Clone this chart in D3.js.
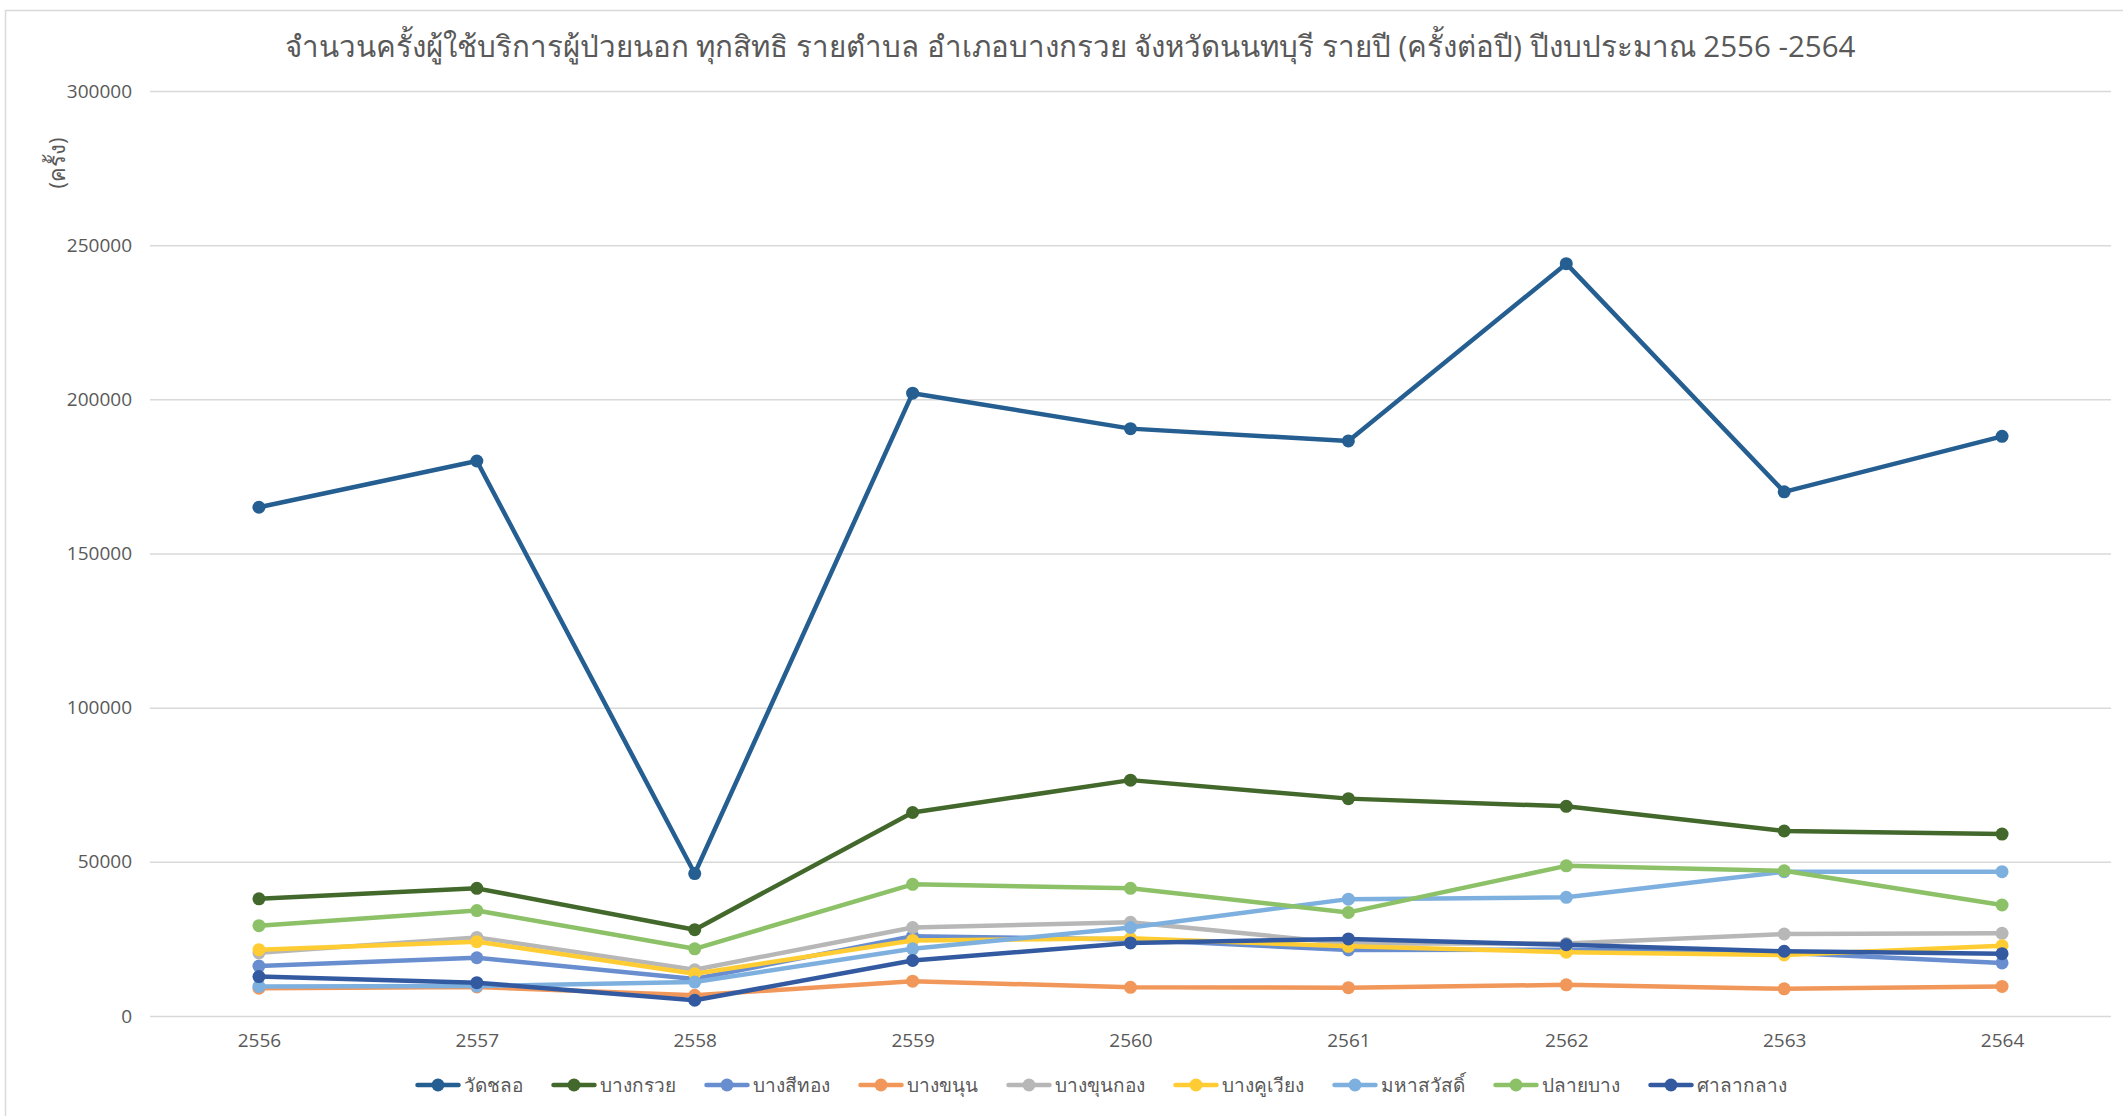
<!DOCTYPE html>
<html>
<head>
<meta charset="utf-8">
<script src="https://cdn.jsdelivr.net/npm/d3@7"></script>
<style>
  html, body { margin: 0; padding: 0; background: #fff; }
  svg { display: block; font-family: "Open Sans", "Noto Sans", "DejaVu Sans", sans-serif; }
</style>
</head>
<body>
<script>
/* global d3 */
(function() {
  'use strict';

  // data
  const years = ['2556', '2557', '2558', '2559', '2560', '2561', '2562', '2563', '2564'];
  const yTicks = [0, 50000, 100000, 150000, 200000, 250000, 300000];
  const seriesNames = ['วัดชลอ', 'บางกรวย', 'บางสีทอง', 'บางขนุน', 'บางขุนกอง', 'บางคูเวียง', 'มหาสวัสดิ์', 'ปลายบาง', 'ศาลากลาง'];

  const watChalo   = [165000, 180000, 46200, 202000, 190500, 186500, 244000, 170000, 188000];
  const bangKruai  = [38000, 41400, 28000, 66000, 76500, 70500, 68000, 60000, 59000];
  const bangSiThong = [16200, 18900, 12000, 25900, 24800, 21400, 21500, 20500, 17200];
  const bangKhanun = [9000, 9400, 6700, 11300, 9300, 9200, 10100, 8800, 9600];
  const bangKhunKong = [20500, 25500, 15000, 28700, 30400, 23500, 23500, 26600, 26800];
  const bangKhuWiang = [21500, 24100, 13700, 24500, 25200, 22600, 20700, 19800, 22800];
  const mahaSawat  = [9600, 9700, 11000, 21800, 28700, 37900, 38500, 46800, 46800];
  const plaiBang   = [29300, 34200, 21800, 42700, 41400, 33600, 48700, 47100, 36000];
  const salaKlang  = [12800, 10800, 5100, 18000, 23700, 25000, 23100, 21000, 20200];

  const seriesValues = [watChalo, bangKruai, bangSiThong, bangKhanun, bangKhunKong,
    bangKhuWiang, mahaSawat, plaiBang, salaKlang];
  const colors = ['#255E91', '#43682B', '#698ED0', '#F1975A', '#B7B7B7',
    '#FFCD33', '#7EB0DF', '#8CC168', '#335AA1'];

  const series = seriesNames.map((name, i) => ({
    name: name,
    color: colors[i],
    values: seriesValues[i].map((v, j) => ({ year: years[j], value: v }))
  }));

  const w = 2123;
  const h = 1116;
  const textColor = '#595959';
  const gridColor = '#D9D9D9';

  const xScale =
    d3.scalePoint()
      .domain(years)
      .range([150, 2111])
      .padding(0.5);

  const yScale =
    d3.scaleLinear()
      .domain([0, 300000])
      .range([1016, 91]);

  const svg =
    d3.select('body')
      .append('svg')
      .attr('width', w)
      .attr('height', h);

  // chart area border (runs off the right and bottom edges)
  svg.append('rect')
    .attr('x', 5.5)
    .attr('y', 10.5)
    .attr('width', w + 20)
    .attr('height', h + 20)
    .attr('fill', '#fff')
    .attr('stroke', '#D9D9D9')
    .attr('stroke-width', 1.5);

  // title
  svg.append('text')
    .attr('x', 1070)
    .attr('y', 57)
    .attr('text-anchor', 'middle')
    .attr('fill', textColor)
    .style('font-size', '29.5px')
    .text('จำนวนครั้งผู้ใช้บริการผู้ป่วยนอก ทุกสิทธิ รายตำบล อำเภอบางกรวย จังหวัดนนทบุรี รายปี (ครั้งต่อปี) ปีงบประมาณ 2556 -2564');

  // y axis with gridlines
  const yAxis = d3.axisLeft(yScale)
    .tickValues(yTicks)
    .tickSize(-(2111 - 150))
    .tickPadding(18)
    .tickFormat(d3.format('d'));
  const yG = svg.append('g')
    .attr('id', 'y-axis')
    .attr('transform', 'translate(150,0)')
    .call(yAxis);
  yG.select('.domain').remove();
  yG.selectAll('line')
    .attr('stroke', gridColor)
    .attr('stroke-width', 1.5);
  yG.selectAll('text')
    .attr('fill', textColor)
    .style('font-size', '19px')
    .style('font-family', '"Open Sans", "Noto Sans", sans-serif');

  // y axis title
  svg.append('text')
    .attr('transform', 'translate(65,163) rotate(-90)')
    .attr('text-anchor', 'middle')
    .attr('fill', textColor)
    .style('font-size', '22px')
    .text('(ครั้ง)');

  // x axis
  const xAxis = d3.axisBottom(xScale).tickSize(0).tickPadding(18);
  const xG = svg.append('g')
    .attr('id', 'x-axis')
    .attr('transform', 'translate(0,1016)')
    .call(xAxis);
  xG.select('.domain').remove();
  xG.selectAll('text')
    .attr('fill', textColor)
    .style('font-size', '19px')
    .style('font-family', '"Open Sans", "Noto Sans", sans-serif');

  // lines and markers
  const line = d3.line()
    .x((d) => xScale(d.year))
    .y((d) => yScale(d.value));

  const groups = svg.selectAll('g.series')
    .data(series)
    .enter()
    .append('g')
    .attr('class', 'series');

  groups.append('path')
    .attr('d', (d) => line(d.values))
    .attr('fill', 'none')
    .attr('stroke', (d) => d.color)
    .attr('stroke-width', 4.5)
    .attr('stroke-linejoin', 'round')
    .attr('stroke-linecap', 'round');

  groups.selectAll('circle')
    .data((d) => d.values.map((v) => ({ year: v.year, value: v.value, color: d.color })))
    .enter()
    .append('circle')
    .attr('cx', (d) => xScale(d.year))
    .attr('cy', (d) => yScale(d.value))
    .attr('r', 6.5)
    .attr('fill', (d) => d.color);

  // legend, laid out from the measured text widths
  const legend = svg.append('g').attr('id', 'legend');
  const items = legend.selectAll('g')
    .data(series)
    .enter()
    .append('g');

  items.append('line')
    .attr('x1', 0).attr('x2', 41)
    .attr('y1', 0).attr('y2', 0)
    .attr('stroke', (d) => d.color)
    .attr('stroke-width', 4.5)
    .attr('stroke-linecap', 'round');
  items.append('circle')
    .attr('cx', 20.5).attr('cy', 0).attr('r', 6.5)
    .attr('fill', (d) => d.color);
  items.append('text')
    .attr('x', 46)
    .attr('y', 0)
    .attr('dy', '0.35em')
    .attr('fill', textColor)
    .style('font-size', '19px')
    .text((d) => d.name);

  let offset = 0;
  const widths = [];
  items.each(function() {
    const tw = d3.select(this).select('text').node().getComputedTextLength();
    widths.push(46 + tw);
  });
  const gap = 31;
  const total = d3.sum(widths) + gap * (widths.length - 1);
  const startX = 1102 - total / 2;
  items.attr('transform', (d, i) => {
    const x = startX + offset;
    offset += widths[i] + gap;
    return 'translate(' + x + ',1085)';
  });
}());
</script>
</body>
</html>
